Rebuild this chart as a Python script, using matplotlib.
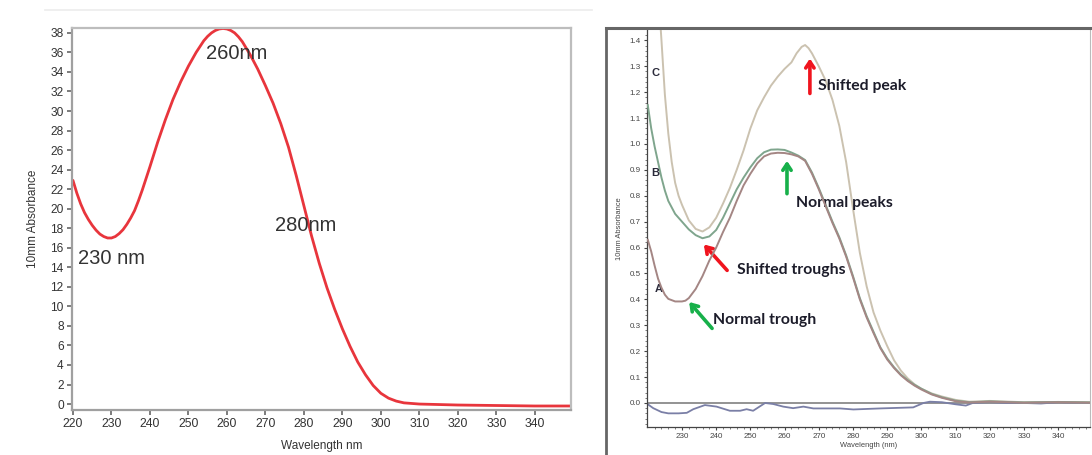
import matplotlib
matplotlib.use("Agg")
import matplotlib.pyplot as plt
from matplotlib.lines import Line2D
import numpy as np

# ---------------- Left panel data ----------------
left_nm = [220, 221, 222, 223, 224, 225, 226, 227, 228, 229, 230, 231, 232, 233, 234, 235,
           236, 237, 238, 239, 240, 242, 244, 246, 248, 250, 252, 254, 255, 256, 257, 258,
           259, 260, 261, 262, 263, 264, 266, 268, 270, 272, 274, 276, 278, 280, 282, 284,
           286, 288, 290, 292, 294, 296, 298, 300, 302, 304, 306, 310, 315, 320, 330, 340,
           350]
left_abs = [22.9, 21.6, 20.5, 19.6, 18.9, 18.3, 17.8, 17.4, 17.15, 17.0, 17.0, 17.15, 17.45,
            17.85, 18.4, 19.05, 19.8, 20.8, 21.9, 23.1, 24.3, 26.8, 29.1, 31.2, 33.0, 34.6,
            36.0, 37.2, 37.65, 38.0, 38.25, 38.4, 38.45, 38.4, 38.25, 38.0, 37.6, 37.1,
            35.8, 34.3, 32.6, 30.8, 28.7, 26.3, 23.4, 20.3, 17.2, 14.4, 11.9, 9.7, 7.7,
            5.9, 4.3, 3.0, 1.9, 1.1, 0.6, 0.3, 0.12, 0.0, -0.05, -0.1, -0.15, -0.2, -0.2]
left_xticks = list(range(220, 341, 10))
left_yticks = list(range(0, 39, 2))
left_labels = ["260nm", "230 nm", "280nm"]
left_label_pos = [(262.6, 35.9), (230.1, 14.9), (280.5, 18.3)]

# ---------------- Right panel data ----------------
c_nm = [220, 222, 224, 225, 226, 227, 228, 229, 230, 232, 234, 236, 238, 240, 242, 244,
        246, 248, 250, 252, 254, 256, 258, 260, 262, 263.5, 265, 266, 267, 268, 270, 272,
        274, 276, 278, 280, 282, 284, 286, 288, 290, 292, 294, 296, 298, 300, 303, 306,
        310, 314, 320, 330, 340, 350]
c_abs = [2.2, 1.80, 1.40, 1.19, 1.04, 0.93, 0.85, 0.80, 0.765, 0.705, 0.672, 0.662, 0.678,
         0.715, 0.77, 0.83, 0.90, 0.975, 1.06, 1.13, 1.18, 1.225, 1.26, 1.29, 1.315, 1.35,
         1.375, 1.382, 1.37, 1.35, 1.30, 1.245, 1.17, 1.07, 0.93, 0.75, 0.58, 0.45, 0.35,
         0.28, 0.22, 0.165, 0.125, 0.095, 0.072, 0.055, 0.037, 0.025, 0.012, 0.005, 0.008,
         0.003, 0.004, 0.003]

b_nm = [220, 221, 222, 223, 224, 225, 226, 228, 230, 232, 234, 236, 238, 240, 242, 244,
        246, 248, 250, 252, 254, 256, 258, 260, 262, 264, 266, 268, 270, 272, 274, 276,
        278, 280, 282, 284, 286, 288, 290, 292, 294, 296, 298, 300, 303, 306, 310, 314,
        320, 330, 340, 350]
b_abs = [1.15, 1.06, 0.99, 0.93, 0.87, 0.82, 0.78, 0.73, 0.70, 0.67, 0.648, 0.636, 0.643,
         0.668, 0.715, 0.77, 0.825, 0.87, 0.91, 0.945, 0.968, 0.978, 0.979, 0.977, 0.967,
         0.955, 0.938, 0.89, 0.83, 0.765, 0.70, 0.64, 0.57, 0.49, 0.405, 0.335, 0.275,
         0.215, 0.172, 0.138, 0.11, 0.088, 0.07, 0.055, 0.035, 0.022, 0.009, 0.003, 0.006,
         0.002, 0.004, 0.002]

a_nm = [220, 221, 222, 223, 224, 225, 226, 228, 230, 231, 232, 234, 236, 238, 240, 242,
        244, 246, 248, 250, 252, 254, 256, 258, 260, 262, 264, 266, 268, 270, 272, 274,
        276, 278, 280, 282, 284, 286, 288, 290, 292, 294, 296, 298, 300, 303, 306, 310,
        314, 320, 330, 340, 350]
a_abs = [0.63, 0.585, 0.53, 0.48, 0.445, 0.418, 0.402, 0.392, 0.392, 0.395, 0.405, 0.44,
         0.49, 0.55, 0.60, 0.66, 0.715, 0.78, 0.84, 0.885, 0.925, 0.952, 0.963, 0.966,
         0.965, 0.96, 0.952, 0.935, 0.885, 0.825, 0.76, 0.695, 0.635, 0.565, 0.485, 0.40,
         0.33, 0.27, 0.212, 0.168, 0.135, 0.107, 0.085, 0.067, 0.052, 0.033, 0.02, 0.007,
         0.002, 0.005, 0.001, 0.003, 0.001]

base_nm = [220, 221.6, 224, 226, 229, 231.4, 233.3, 236.7, 240.1, 244, 247, 248.9, 250.8,
           254.3, 256.7, 259.6, 262.5, 265.5, 268.4, 276.2, 280.1, 287.9, 297.6, 300.6,
           302.5, 306, 310, 313, 315, 320, 325, 330, 335, 340, 345, 350]
base_abs = [-0.005, -0.02, -0.035, -0.04, -0.04, -0.038, -0.024, -0.008, -0.014, -0.03,
            -0.03, -0.024, -0.03, 0.0, -0.004, -0.014, -0.02, -0.014, -0.021, -0.021,
            -0.025, -0.021, -0.017, 0.0, 0.005, 0.003, -0.005, -0.01, 0.0, 0.003, 0.0,
            0.0, -0.002, 0.003, 0.001, 0.0]

right_xticks = list(range(230, 341, 10))
right_yticks = [round(0.1 * i, 1) for i in range(15)]
curve_letters = ["C", "B", "A"]
curve_letter_pos = [(222.4, 1.274), (222.1, 0.888), (223.3, 0.44)]

notes = ["Shifted peak", "Normal peaks", "Shifted troughs", "Normal trough"]
note_text_pos = [(269.8, 1.224), (263.3, 0.772), (246.1, 0.514), (239.1, 0.320)]
note_arrow_head = [(267.4, 1.330), (260.7, 0.935), (236.4, 0.612), (232.1, 0.390)]
note_arrow_tail = [(267.4, 1.195), (260.7, 0.808), (243.2, 0.512), (238.8, 0.288)]
note_colors = ["#f0141e", "#17b04a", "#f0141e", "#17b04a"]

# ---------------- Figure ----------------
W, H = 1092, 455
fig = plt.figure(figsize=(W / 100, H / 100), dpi=100)
fig.patch.set_facecolor("white")

def fx(px):
    return px / W

def fy(py):
    return 1 - py / H

# faint top border of left image
fig.add_artist(Line2D([fx(45), fx(592)], [fy(10), fy(10)], color="#ececec", lw=1.2))

# ---------- Left axes ----------
ax1 = fig.add_axes([fx(72), fy(410), fx(571) - fx(72), fy(28) - fy(410)])
ax1.plot(left_nm, left_abs, color="#e8353c", lw=2.0, solid_capstyle="round",
         solid_joinstyle="round")
ax1.set_xlim(219.75, 349.4)
ax1.set_ylim(-0.61, 38.5)
ax1.set_xticks(left_xticks)
ax1.set_yticks(left_yticks)
lfont = dict(family=["Liberation Sans", "DejaVu Sans"])
ax1.set_xticklabels([str(t) for t in left_xticks], fontsize=8.8, color="#333333", **lfont)
ax1.set_yticklabels([str(t) for t in left_yticks], fontsize=8.6, color="#333333", **lfont)
ax1.tick_params(direction="out", length=3.5, width=1.2, color="#666666", pad=2.5)
for s in ["left", "bottom"]:
    ax1.spines[s].set_color("#a0a0a0")
    ax1.spines[s].set_linewidth(1.6)
for s in ["top", "right"]:
    ax1.spines[s].set_color("#bdbdbd")
    ax1.spines[s].set_linewidth(1.6)
ax1.set_xlabel("Wavelength nm", fontsize=8.5, color="#333333", labelpad=7, **lfont)
ax1.set_ylabel("10mm Absorbance", fontsize=8.5, color="#333333", labelpad=8, **lfont)
for txt, (x, y) in zip(left_labels, left_label_pos):
    ax1.text(x, y, txt, fontsize=14.5, color="#333333", ha="center", va="center", **lfont)

# ---------- Right axes ----------
ax2 = fig.add_axes([fx(647), fy(427), fx(1090) - fx(647), fy(30) - fy(427)])
ax2.axhline(0.0, color="#8a8a8a", lw=1.3, zorder=1)
ax2.plot(base_nm, base_abs, color="#7a7fa6", lw=1.3, zorder=2)
ax2.plot(c_nm, c_abs, color="#cbc2b0", lw=1.4, zorder=3, solid_joinstyle="round")
ax2.plot(b_nm, b_abs, color="#7fa58d", lw=1.4, zorder=3, solid_joinstyle="round")
ax2.plot(a_nm, a_abs, color="#a48684", lw=1.4, zorder=4, solid_joinstyle="round")
ax2.set_xlim(219.77, 349.3)
ax2.set_ylim(-0.0927, 1.44)
ax2.set_xticks(right_xticks)
ax2.set_xticks(np.arange(222, 350, 2), minor=True)
ax2.set_yticks(right_yticks)
ax2.set_yticks(np.arange(-0.08, 1.44, 0.02), minor=True)
rfont = dict(family=["Liberation Sans", "DejaVu Sans"])
ax2.set_xticklabels([str(t) for t in right_xticks], fontsize=5.8, color="#444444", **rfont)
ax2.set_yticklabels(["%.1f" % t for t in right_yticks], fontsize=5.8, color="#444444", **rfont)
ax2.tick_params(which="major", direction="out", length=2.5, width=0.8, color="#444444", pad=2)
ax2.tick_params(which="minor", direction="out", length=1.5, width=0.6, color="#666666")
ax2.spines["left"].set_color("#444444")
ax2.spines["bottom"].set_color("#444444")
ax2.spines["left"].set_linewidth(0.9)
ax2.spines["bottom"].set_linewidth(0.9)
ax2.spines["top"].set_visible(False)
ax2.spines["right"].set_color("#bbbbbb")
ax2.set_xlabel("Wavelength (nm)", fontsize=5.4, color="#444444", labelpad=1.5, **rfont)
ax2.set_ylabel("10mm Absorbance", fontsize=5.4, color="#444444", labelpad=5, **rfont)

for txt, (x, y) in zip(curve_letters, curve_letter_pos):
    ax2.text(x, y, txt, fontsize=8, fontweight="bold", color="#2a2a3a",
             ha="center", va="center", family=["Liberation Sans", "DejaVu Sans"])

for txt, tp, head, tail, col in zip(notes, note_text_pos, note_arrow_head,
                                    note_arrow_tail, note_colors):
    ax2.annotate("", xy=head, xytext=tail,
                 arrowprops=dict(arrowstyle="->,head_length=0.45,head_width=0.3",
                                 color=col, lw=2.6, shrinkA=0, shrinkB=0))
    ax2.text(tp[0], tp[1], txt, fontsize=11.3, fontweight="bold", color="#1c1c2a",
             ha="left", va="center", family=["Lato", "DejaVu Sans"])

# frame of right picture
fig.add_artist(Line2D([fx(606), fx(1092)], [fy(28), fy(28)], color="#666666", lw=2.2))
fig.add_artist(Line2D([fx(606), fx(606)], [fy(28), 0], color="#666666", lw=2.0))

fig.savefig("out.png", dpi=100, facecolor="white")
